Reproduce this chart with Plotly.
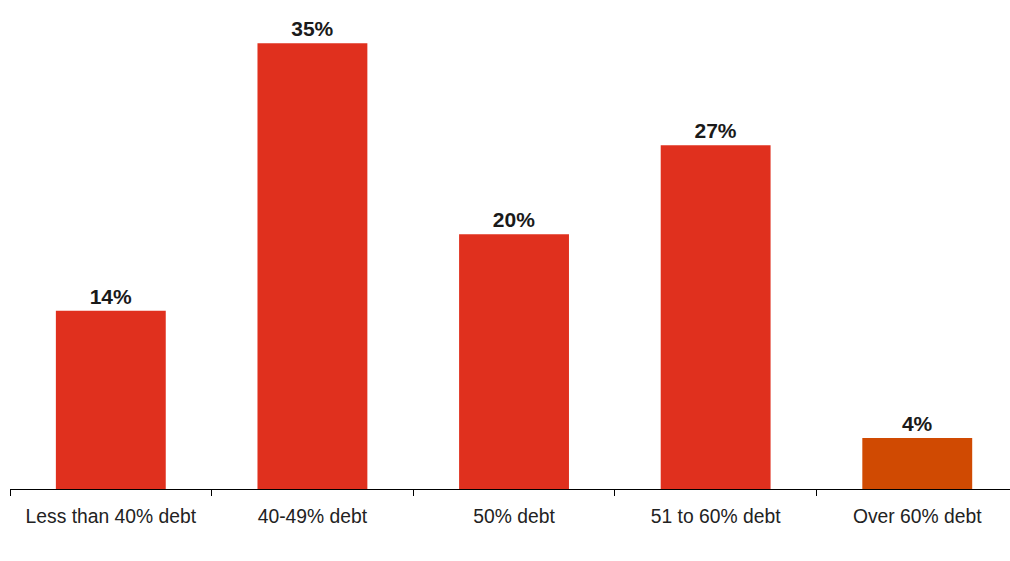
import plotly.graph_objects as go

categories = ["Less than 40% debt", "40-49% debt", "50% debt", "51 to 60% debt", "Over 60% debt"]
values = [14, 35, 20, 27, 4]
labels = ["14%", "35%", "20%", "27%", "4%"]
colors = ["#E0301E", "#E0301E", "#E0301E", "#E0301E", "#D04A02"]

fig = go.Figure(go.Bar(
    x=categories,
    y=values,
    text=labels,
    textposition="outside",
    cliponaxis=False,
    textfont=dict(family="Liberation Sans, Arial, sans-serif", size=21, color="#1a1a1a", weight="bold"),
    marker=dict(color=colors, line=dict(width=0)),
    width=0.545,
))

fig.update_layout(
    width=1010, height=561,
    margin=dict(l=10, r=0, t=0, b=72),
    plot_bgcolor="white", paper_bgcolor="white",
    showlegend=False,
    font=dict(family="Liberation Sans, Arial, sans-serif", size=19, color="#222222"),
    xaxis=dict(
        range=[-0.5, 4.46],
        showline=True, linecolor="black", linewidth=1.3,
        ticks="outside", tickson="boundaries", ticklen=6, tickcolor="black", tickwidth=1.3,
        showgrid=False,
        ticklabelstandoff=10,
        tickfont=dict(size=19.3, color="#222222"),
    ),
    yaxis=dict(
        range=[0, 38.4],
        visible=False, showgrid=False, zeroline=False,
    ),
)

fig.write_html("out.html")
